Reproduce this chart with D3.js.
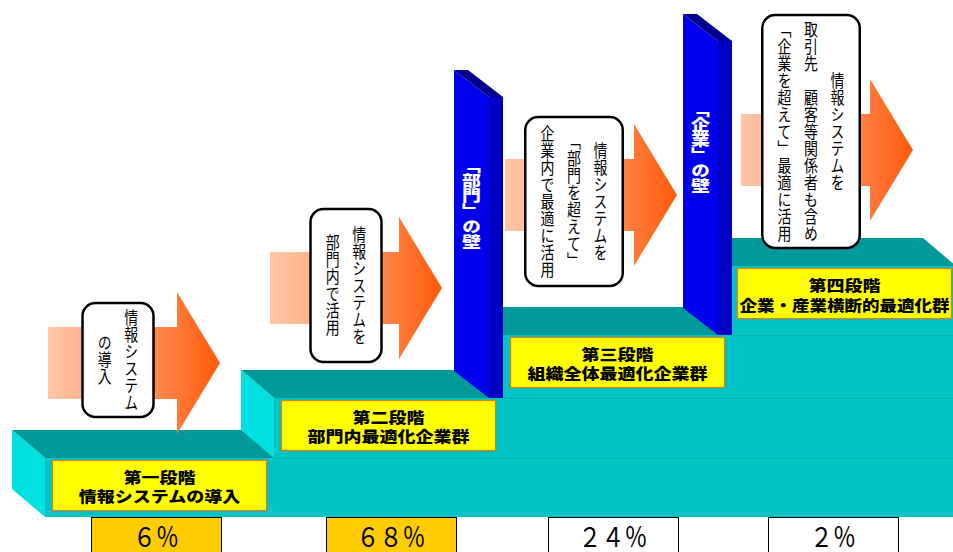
<!DOCTYPE html>
<html>
<head>
<meta charset="utf-8">
<script src="https://cdn.jsdelivr.net/npm/d3@7"></script>
<style>
  html, body { margin: 0; padding: 0; background: #fff; }
  svg { display: block; }
  text { font-family: "Noto Sans CJK JP", "Noto Sans", sans-serif; }
</style>
</head>
<body>
<svg id="chart"></svg>
<script>
'use strict';

// stage data
var stageNames = ['第一段階', '第二段階', '第三段階', '第四段階'];
var groupNames = ['情報システムの導入', '部門内最適化企業群', '組織全体最適化企業群', '企業・産業横断的最適化群'];
var shareValues = [6, 68, 24, 2];
var highlightStages = [0, 1];
var arrowTexts = [
    ['情報システム', 'の導入'],
    ['情報システムを', '部門内で活用'],
    ['情報システムを', '「部門を超えて」', '企業内で最適に活用'],
    ['情報システムを', '取引先　顧客等関係者も含め', '「企業を超えて」最適に活用']
];
var wallNames = ['「部門」の壁', '「企業」の壁'];

var width = 953, height = 552;
var svg = d3.select('#chart')
    .attr('width', width)
    .attr('height', height)
    .style('background-color', '#fff');

var idx = d3.range(stageNames.length);

// layout scales (stage index -> pixels)
var xFront = d3.scaleLinear().domain([0, 3]).range([45, 732]);
var yTop = d3.scaleLinear().domain([0, 1, 2, 3]).range([458, 398, 335, 266]);
var arrowTipX = d3.scaleLinear().domain([0, 1, 2, 3]).range([220, 442, 677, 913]);
var arrowTipY = d3.scaleLinear().domain([0, 1, 2, 3]).range([363, 288, 195, 150]);
var boxTop = d3.scaleLinear().domain([0, 1, 2, 3]).range([303, 209, 117, 15]);
var boxBottom = d3.scaleLinear().domain([0, 1, 2, 3]).range([417, 362, 286, 248]);
var boxCenterX = d3.scaleLinear().domain([0, 1, 2, 3]).range([118, 346, 574, 811]);
var pctX = d3.scaleLinear().domain([0, 1, 2, 3]).range([156, 391, 613, 833]);
var wallTop = d3.scaleLinear().domain([0, 1]).range([97, 41]);

var depthX = 33, depthY = 28;
var floorY = 517;
var rightX = 956;

function pts(a) { return a.map(function (p) { return p.join(','); }).join(' '); }

// staircase
var stairs = svg.append('g');
idx.forEach(function (i) {
    var fx = xFront(i), fy = yTop(i);
    var bx = fx - depthX, by = fy - depthY;
    var lowY = i === 0 ? floorY : yTop(i - 1);
    var g = stairs.append('g');
    g.append('polygon')
        .attr('points', pts([[fx, fy], [rightX, fy], [rightX, floorY], [fx, floorY]]))
        .attr('fill', '#00c4c4');
    g.append('polygon')
        .attr('points', pts([[bx, by], [rightX - depthX, by], [rightX, fy], [fx, fy]]))
        .attr('fill', '#009999');
    g.append('polygon')
        .attr('points', pts([[bx, by], [fx, fy], [fx, lowY], [bx, lowY - depthY]]))
        .attr('fill', '#00e0e0');
});
// faint seam lines on the front
idx.slice(0, 3).forEach(function (i) {
    stairs.append('line')
        .attr('x1', xFront(i + 1)).attr('x2', width)
        .attr('y1', yTop(i) + 0.5).attr('y2', yTop(i) + 0.5)
        .attr('stroke', '#00b2b2')
        .attr('stroke-width', 1);
});

// walls
var walls = svg.append('g');
wallNames.forEach(function (name, k) {
    var right = xFront(k + 2), x0 = right - 14;
    var top = wallTop(k), bottom = yTop(k + 1);
    var dx = 35, dy = 27;
    walls.append('polygon')
        .attr('points', pts([[x0 - dx, top - dy], [x0, top], [x0, bottom], [x0 - dx, bottom - dy]]))
        .attr('fill', '#0000eb');
    walls.append('polygon')
        .attr('points', pts([[x0, top], [right, top], [right, bottom], [x0, bottom]]))
        .attr('fill', '#0000c4');
    walls.append('polygon')
        .attr('points', pts([[x0 - dx, top - dy], [right - dx, top - dy], [right, top], [x0, top]]))
        .attr('fill', '#00008e');
    walls.append('text')
        .attr('transform', 'translate(' + (x0 - dx / 2) + ',' + (top + 106) + ') scale(1.05,0.85)')
        .style('writing-mode', 'vertical-rl')
        .attr('text-anchor', 'middle')
        .attr('dominant-baseline', 'central')
        .attr('fill', '#fff')
        .attr('font-weight', 900)
        .attr('font-size', 18)
        .text(name);
});

// arrows
var defs = svg.append('defs');
var grad = defs.append('linearGradient')
    .attr('id', 'arrowGrad')
    .attr('x1', '0').attr('x2', '1').attr('y1', '0').attr('y2', '0');
grad.append('stop').attr('offset', '0').attr('stop-color', '#ffc6a6');
grad.append('stop').attr('offset', '0.45').attr('stop-color', '#ffa070');
grad.append('stop').attr('offset', '1').attr('stop-color', '#ff5a0a');

var shaftHalf = 36, headHalf = 71, headLen = 43, arrowLen = 172;
svg.append('g').selectAll('path')
    .data(idx)
    .enter().append('path')
    .attr('d', function (i) {
        var tx = arrowTipX(i), ty = arrowTipY(i);
        var hb = tx - headLen, sl = tx - arrowLen;
        return 'M' + sl + ',' + (ty - shaftHalf) +
            'L' + hb + ',' + (ty - shaftHalf) +
            'L' + hb + ',' + (ty - headHalf) +
            'L' + tx + ',' + ty +
            'L' + hb + ',' + (ty + headHalf) +
            'L' + hb + ',' + (ty + shaftHalf) +
            'L' + sl + ',' + (ty + shaftHalf) + 'Z';
    })
    .attr('fill', 'url(#arrowGrad)');

// rounded text boxes with vertical text
var colGap = 26.5;
var boxes = svg.append('g').selectAll('g')
    .data(idx)
    .enter().append('g');
boxes.append('rect')
    .attr('x', function (i) { return boxCenterX(i) - (arrowTexts[i].length * colGap + 18) / 2; })
    .attr('y', function (i) { return boxTop(i); })
    .attr('width', function (i) { return arrowTexts[i].length * colGap + 18; })
    .attr('height', function (i) { return boxBottom(i) - boxTop(i); })
    .attr('rx', 13).attr('ry', 13)
    .attr('fill', '#fff')
    .attr('stroke', '#000')
    .attr('stroke-width', 2.5);
boxes.each(function (i) {
    var cols = arrowTexts[i];
    var n = cols.length;
    var maxChars = d3.max(cols, function (c) { return c.length; });
    var fs = Math.min(17, (boxBottom(i) - boxTop(i) - 12) / maxChars);
    var cy = (boxTop(i) + boxBottom(i)) / 2;
    d3.select(this).selectAll('text')
        .data(cols)
        .enter().append('text')
        .attr('transform', function (c, j) {
            var cx = boxCenterX(i) + ((n - 1) / 2 - j) * colGap;
            return 'translate(' + cx + ',' + cy + ') scale(0.82,1)';
        })
        .style('writing-mode', 'vertical-rl')
        .attr('text-anchor', 'middle')
        .attr('dominant-baseline', 'central')
        .attr('font-size', fs)
        .attr('fill', '#000')
        .text(function (c) { return c; });
});

// yellow stage labels
var labelW = 214, labelH = 50;
function labelX(i) { return Math.min(xFront(i) + 7.5, width - 1.5 - labelW); }
var labels = svg.append('g').selectAll('g')
    .data(idx)
    .enter().append('g');
labels.append('rect')
    .attr('x', labelX)
    .attr('y', function (i) { return yTop(i) + 2.5; })
    .attr('width', labelW)
    .attr('height', labelH)
    .attr('fill', '#ffff00')
    .attr('stroke', '#e87a10')
    .attr('stroke-width', 1.2);
labels.append('text')
    .attr('transform', function (i) {
        return 'translate(' + (labelX(i) + labelW / 2) + ',' + (yTop(i) + 19) + ') scale(1,0.82)';
    })
    .attr('text-anchor', 'middle')
    .attr('dominant-baseline', 'central')
    .attr('font-weight', 900)
    .attr('font-size', 18)
    .text(function (i) { return stageNames[i]; });
labels.append('text')
    .attr('text-anchor', 'middle')
    .attr('dominant-baseline', 'central')
    .attr('font-weight', 900)
    .attr('font-size', 18)
    .text(function (i) { return groupNames[i]; })
    .attr('transform', function (i) {
        var len = this.getComputedTextLength();
        var sx = Math.min(1, (labelW - 4) / len);
        return 'translate(' + (labelX(i) + labelW / 2) + ',' + (yTop(i) + 38) + ') scale(' + sx + ',0.85)';
    });

// percentage boxes
function fullWidth(v) {
    return String(v).replace(/\d/g, function (d) {
        return String.fromCharCode(d.charCodeAt(0) + 0xFEE0);
    }) + '％';
}
var pctW = 130;
var pct = svg.append('g').selectAll('g')
    .data(idx)
    .enter().append('g');
pct.append('rect')
    .attr('x', function (i) { return pctX(i) - pctW / 2 + 0.5; })
    .attr('y', floorY + 0.5)
    .attr('width', pctW)
    .attr('height', 50)
    .attr('fill', function (i) { return highlightStages.indexOf(i) >= 0 ? '#ffcc00' : '#fff'; })
    .attr('stroke', '#000')
    .attr('stroke-width', 1);
pct.append('text')
    .attr('transform', function (i) { return 'translate(' + pctX(i) + ',547) scale(0.85,1)'; })
    .attr('text-anchor', 'middle')
    .attr('font-size', 27)
    .attr('fill', '#000')
    .text(function (i) { return fullWidth(shareValues[i]); });
</script>
</body>
</html>
